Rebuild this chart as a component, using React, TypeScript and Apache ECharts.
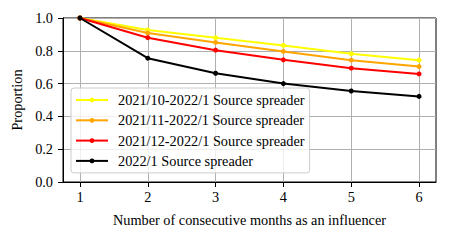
import React, { useEffect, useRef } from "react";
import * as echarts from "echarts";

const months = [1, 2, 3, 4, 5, 6];
const seriesNames = [
  "2021/10-2022/1 Source spreader",
  "2021/11-2022/1 Source spreader",
  "2021/12-2022/1 Source spreader",
  "2022/1 Source spreader",
];
const octValues = [1.0, 0.927, 0.88, 0.833, 0.782, 0.743];
const novValues = [1.0, 0.908, 0.851, 0.796, 0.743, 0.704];
const decValues = [1.0, 0.88, 0.804, 0.745, 0.694, 0.659];
const janValues = [1.0, 0.755, 0.663, 0.6, 0.555, 0.522];
const seriesColors = ["#ffff00", "#ffa500", "#ff0000", "#000000"];
const xTicks = [1, 2, 3, 4, 5, 6];

const FONT = "'Liberation Serif', 'Times New Roman', serif";
const FS = 14.3;

export default function App() {
  const ref = useRef<HTMLDivElement>(null);
  useEffect(() => {
    if (!ref.current) return;
    const chart = echarts.init(ref.current, undefined, { renderer: "svg" });
    const allValues = [octValues, novValues, decValues, janValues];
    chart.setOption({
      animation: false,
      textStyle: { fontFamily: FONT, fontSize: FS, color: "#000" },
      grid: {
        left: 63,
        right: 13,
        top: 18,
        bottom: 59,
        show: true,
        borderColor: "#000",
        borderWidth: 1,
        backgroundColor: "transparent",
      },
      legend: {
        orient: "vertical",
        left: 71,
        top: 88,
        itemWidth: 32,
        itemHeight: 6,
        itemGap: 6.3,
        padding: [5, 5, 5, 4],
        backgroundColor: "rgba(255,255,255,0.8)",
        borderColor: "#cccccc",
        borderWidth: 1,
        borderRadius: 3,
        textStyle: { fontFamily: FONT, fontSize: FS, color: "#000", padding: [0, 0, 0, 5] },
        data: seriesNames,
      },
      xAxis: {
        type: "value",
        min: 0.75,
        max: 6.25,
        name: "Number of consecutive months as an influencer",
        nameLocation: "middle",
        nameGap: 31,
        nameTextStyle: { fontFamily: FONT, fontSize: FS, color: "#000" },
        axisLine: { show: true, lineStyle: { color: "#000", width: 1 } },
        axisTick: {
          show: true,
          inside: false,
          length: 5,
          lineStyle: { color: "#000", width: 1 },
          customValues: xTicks,
        },
        axisLabel: {
          fontFamily: FONT,
          fontSize: FS,
          color: "#000",
          margin: 8,
          customValues: xTicks,
          formatter: (v: number) => String(v),
        },
        splitLine: { show: true, lineStyle: { color: "#b0b0b0", width: 1 } },
      },
      yAxis: {
        type: "value",
        min: 0,
        max: 1,
        interval: 0.2,
        name: "Proportion",
        nameLocation: "middle",
        nameGap: 36,
        nameTextStyle: { fontFamily: FONT, fontSize: FS, color: "#000" },
        axisLine: { show: true, lineStyle: { color: "#000", width: 1 } },
        axisTick: { show: true, inside: false, length: 5, lineStyle: { color: "#000", width: 1 } },
        axisLabel: {
          fontFamily: FONT,
          fontSize: FS,
          color: "#000",
          margin: 10,
          formatter: (v: number) => v.toFixed(1),
        },
        splitLine: { show: true, lineStyle: { color: "#b0b0b0", width: 1 } },
      },
      series: seriesNames.map((name, i) => ({
        name,
        type: "line",
        data: months.map((m, j) => [m, allValues[i][j]]),
        symbol: "circle",
        symbolSize: 5,
        showSymbol: true,
        lineStyle: { color: seriesColors[i], width: 2 },
        itemStyle: { color: seriesColors[i] },
        emphasis: { disabled: true },
        z: 2 + i,
      })),
    });
    return () => chart.dispose();
  }, []);
  return (
    <div
      ref={ref}
      style={{ position: "fixed", left: 0, top: 0, width: 449, height: 241, background: "#fff" }}
    />
  );
}
